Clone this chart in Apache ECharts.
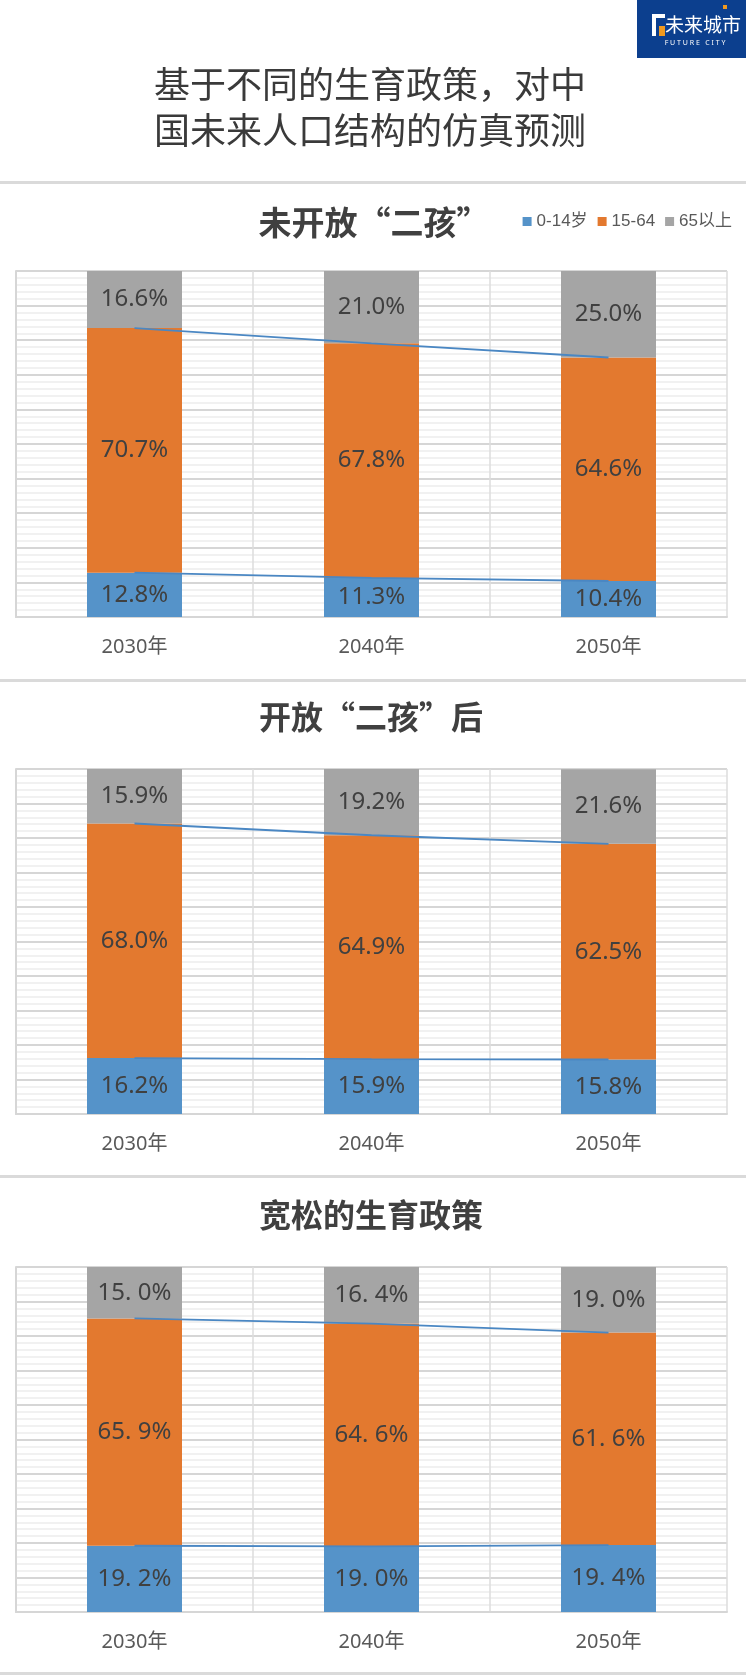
<!DOCTYPE html>
<html>
<head>
<meta charset="utf-8">
<script src="https://cdn.jsdelivr.net/npm/echarts@6/dist/echarts.min.js"></script>
<style>
html,body{margin:0;padding:0;background:#fff;}
#c{width:746px;height:1675px;}
</style>
</head>
<body>
<div id="c"></div>
<script>
// ---- data ----
const categories = ['2030年', '2040年', '2050年'];
const seriesNames = ['0-14岁', '15-64', '65以上'];
const mainTitle = ['基于不同的生育政策，对中', '国未来人口结构的仿真预测'];
const chartTitles = ['未开放“二孩”', '开放“二孩”后', '宽松的生育政策'];

const young1 = [12.8, 11.3, 10.4];
const work1  = [70.7, 67.8, 64.6];
const old1   = [16.6, 21.0, 25.0];

const young2 = [16.2, 15.9, 15.8];
const work2  = [68.0, 64.9, 62.5];
const old2   = [15.9, 19.2, 21.6];

const young3 = [19.2, 19.0, 19.4];
const work3  = [65.9, 64.6, 61.6];
const old3   = [15.0, 16.4, 19.0];

const panels = [[young1, work1, old1], [young2, work2, old2], [young3, work3, old3]];

// ---- style ----
const colors = ['#5593c9', '#e3792f', '#a5a5a5'];
const lineColor = '#4a87c3';
const gridTops = [271, 769, 1267];
const gridHeights = [346, 345, 345];
const titleYs = [222, 717, 1215];
const titleXs = [374, 371, 371];
const titleSizes = [33, 32, 32];
const sepYs = [181, 679, 1175, 1672];
const labelFont = "'Noto Sans', 'Noto Sans CJK SC', sans-serif";
const legendFont = "'Liberation Sans', 'Noto Sans CJK SC', sans-serif";
const cjkFont = "'Noto Sans CJK SC', 'Noto Sans', sans-serif";

const grids = [], xAxes = [], yAxes = [], series = [];
panels.forEach((p, gi) => {
  grids.push({left: 16, right: 19, top: gridTops[gi], height: gridHeights[gi], containLabel: false});
  xAxes.push({
    type: 'category', gridIndex: gi, data: categories,
    axisLine: {show: true, lineStyle: {color: '#d6d6d6', width: 2}},
    axisTick: {show: false},
    axisLabel: {color: '#595959', fontSize: 20, fontFamily: labelFont, margin: 20},
    splitLine: {show: true, lineStyle: {color: '#dcdcdc', width: 1.5}}
  });
  yAxes.push({
    type: 'value', gridIndex: gi, min: 0, max: 100, interval: 10,
    axisLabel: {show: false},
    axisTick: {show: false},
    axisLine: {show: true, lineStyle: {color: '#d6d6d6', width: 2}},
    splitLine: {show: true, lineStyle: {color: '#d6d6d6', width: 2}},
    minorTick: {show: false, splitNumber: 5},
    minorSplitLine: {show: true, lineStyle: {color: '#ededed', width: 1.5}}
  });
  const fmt = gi === 2
    ? (v) => v.value.toFixed(1).replace('.', '. ') + '%'
    : (v) => v.value.toFixed(1) + '%';
  p.forEach((vals, si) => {
    series.push({
      type: 'bar', name: seriesNames[si], stack: 's' + gi,
      xAxisIndex: gi, yAxisIndex: gi, data: vals, barWidth: 95,
      itemStyle: {color: colors[si]},
      label: {show: true, position: 'inside', color: '#404040', fontSize: 24,
              fontFamily: labelFont, formatter: fmt}
    });
  });
  const lower = p[0].map(v => v);
  const upper = p[0].map((v, i) => +(v + p[1][i]).toFixed(1));
  [lower, upper].forEach((d) => {
    series.push({
      type: 'line', xAxisIndex: gi, yAxisIndex: gi, data: d,
      symbol: 'none', z: 5, silent: true,
      lineStyle: {color: lineColor, width: 1.8}
    });
  });
});

const graphic = [];
// separators
sepYs.forEach(y => graphic.push({type: 'rect', shape: {x: 0, y: y, width: 746, height: 3}, style: {fill: '#dadada'}}));
// logo
graphic.push({type: 'rect', shape: {x: 637, y: 0, width: 109, height: 58}, style: {fill: '#0c3f8e'}});
graphic.push({type: 'rect', shape: {x: 652, y: 14, width: 4, height: 22}, style: {fill: '#ffffff'}});
graphic.push({type: 'rect', shape: {x: 652, y: 14, width: 13, height: 4}, style: {fill: '#ffffff'}});
graphic.push({type: 'rect', shape: {x: 659, y: 26, width: 6, height: 10}, style: {fill: '#f29a1f'}});
graphic.push({type: 'rect', shape: {x: 723, y: 5, width: 4, height: 4}, style: {fill: '#f29a1f'}});
graphic.push({type: 'text', x: 703, y: 25, style: {text: '未来城市', fill: '#ffffff', fontSize: 19, fontFamily: cjkFont,
  align: 'center', verticalAlign: 'middle', textAlign: 'center', textVerticalAlign: 'middle'}});
graphic.push({type: 'text', x: 695, y: 43, style: {text: 'F U T U R E   C I T Y', fill: '#ffffff', fontSize: 7, fontFamily: labelFont,
  align: 'center', verticalAlign: 'middle', textAlign: 'center', textVerticalAlign: 'middle'}});
// main title
mainTitle.forEach((t, i) => graphic.push({type: 'text', x: 370, y: [84, 130][i],
  style: {text: t, fill: '#3a3a3a', fontSize: 36, fontFamily: cjkFont,
  align: 'center', verticalAlign: 'middle', textAlign: 'center', textVerticalAlign: 'middle'}}));
// chart titles
chartTitles.forEach((t, i) => graphic.push({type: 'text', x: titleXs[i], y: titleYs[i],
  style: {text: t, fill: '#404040', fontSize: titleSizes[i], fontWeight: 'bold', fontFamily: cjkFont,
  align: 'center', verticalAlign: 'middle', textAlign: 'center', textVerticalAlign: 'middle'}}));

const chart = echarts.init(document.getElementById('c'), null, {renderer: 'canvas'});
chart.setOption({
  animation: false,
  backgroundColor: '#ffffff',
  grid: grids, xAxis: xAxes, yAxis: yAxes, series: series,
  legend: {
    data: seriesNames, right: 14, top: 213, itemWidth: 9, itemHeight: 9, itemGap: 10,
    icon: 'rect', selectedMode: false, padding: 0,
    textStyle: {color: '#595959', fontSize: 17, fontFamily: legendFont}
  },
  graphic: graphic
});
</script>
</body>
</html>
